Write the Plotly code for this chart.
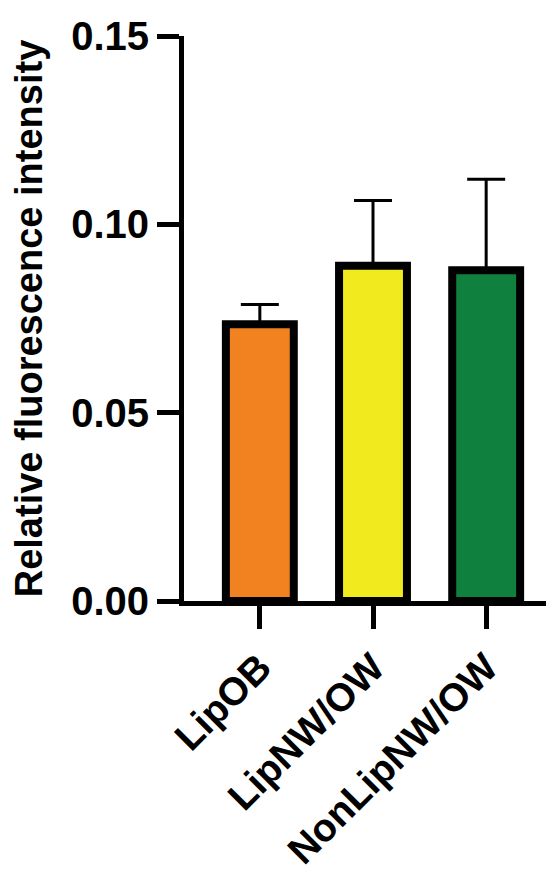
import plotly.graph_objects as go

categories = ["LipOB", "LipNW/OW", "NonLipNW/OW"]
means = [0.0735, 0.0890, 0.0878]
sd_upper = [0.0052, 0.0173, 0.0242]
colors = ["#F28220", "#F0EA1E", "#10803F"]
y_ticks = [0.00, 0.05, 0.10, 0.15]
y_ticklabels = ["0.00", "0.05", "0.10", "0.15"]

FONT = "Liberation Sans, Arial, sans-serif"

fig = go.Figure()
fig.add_trace(go.Bar(
    x=categories,
    y=means,
    width=0.6,
    marker=dict(color=colors, line=dict(color="black", width=8)),
    error_y=dict(type="data", symmetric=False, array=sd_upper,
                 arrayminus=[0, 0, 0], color="black", thickness=3, width=19),
    showlegend=False,
))

fig.update_layout(
    width=554, height=872,
    margin=dict(l=176, r=0, t=28, b=279),
    paper_bgcolor="white", plot_bgcolor="white",
    bargap=0.4,
)
fig.update_xaxes(
    type="category", range=[-0.67, 2.67],
    showline=True, linecolor="black", linewidth=5,
    ticks="outside", ticklen=23, tickwidth=5, tickcolor="black",
    tickangle=-45,
    tickfont=dict(family=FONT, size=39, color="black", weight="bold"),
    showgrid=False, zeroline=False,
)
fig.update_yaxes(
    range=[0, 0.15],
    tickvals=y_ticks, ticktext=y_ticklabels,
    showline=True, linecolor="black", linewidth=5,
    ticks="outside", ticklen=22, tickwidth=5, tickcolor="black",
    tickfont=dict(family=FONT, size=40, color="black", weight="bold"),
    title=dict(text="Relative fluorescence intensity",
               font=dict(family=FONT, size=38, color="black", weight="bold"),
               standoff=20),
    showgrid=False, zeroline=False,
)

fig.write_html("out.html")
